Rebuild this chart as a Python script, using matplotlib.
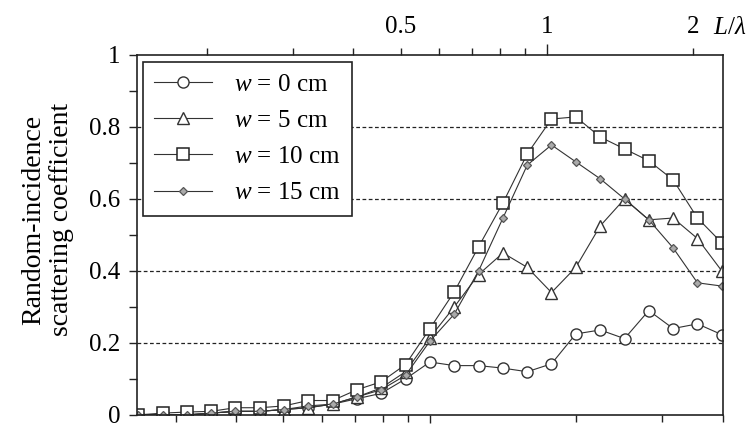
import matplotlib
matplotlib.use("Agg")
import matplotlib.pyplot as plt
from matplotlib.ticker import FixedLocator, FuncFormatter, NullFormatter

plt.rcParams['font.family'] = ['Liberation Serif', 'DejaVu Serif']
plt.rcParams['mathtext.fontset'] = 'custom'
plt.rcParams['mathtext.rm'] = 'Liberation Serif'
plt.rcParams['mathtext.it'] = 'Liberation Serif:italic'

# band centre frequencies (Hz)
freq = [251, 282, 316, 355, 398, 447, 501, 562, 631, 708, 794, 891, 1000,
        1122, 1259, 1413, 1585, 1778, 1995, 2239, 2512, 2818, 3162, 3548, 3981]

# scattering coefficient for each groove depth w
s_w0 = [0.0, 0.0, 0.0, 0.005, 0.01, 0.01, 0.015, 0.02, 0.03, 0.045, 0.06, 0.10, 0.147,
        0.137, 0.137, 0.13, 0.12, 0.142, 0.225, 0.236, 0.212, 0.29, 0.24, 0.253, 0.223]
s_w5 = [0.0, 0.0, 0.0, 0.005, 0.01, 0.01, 0.015, 0.02, 0.03, 0.05, 0.075, 0.12, 0.215,
        0.30, 0.39, 0.45, 0.41, 0.34, 0.41, 0.525, 0.60, 0.542, 0.547, 0.49, 0.40]
s_w10 = [0.0, 0.005, 0.008, 0.01, 0.02, 0.02, 0.025, 0.04, 0.04, 0.07, 0.092, 0.14, 0.24,
         0.342, 0.467, 0.589, 0.725, 0.822, 0.828, 0.772, 0.739, 0.706, 0.653, 0.547, 0.478]
s_w15 = [0.0, 0.0, 0.0, 0.005, 0.01, 0.01, 0.015, 0.025, 0.03, 0.05, 0.07, 0.11, 0.205,
         0.28, 0.40, 0.547, 0.694, 0.75, 0.703, 0.656, 0.60, 0.542, 0.464, 0.367, 0.358]

f_ref = 1741.0  # frequency where L/lambda = 1

fig = plt.figure(figsize=(7.49, 4.26), dpi=100)
ax = fig.add_axes([0.183, 0.026, 0.782, 0.845])

lc = '#333333'
ax.plot(freq, s_w0, '-o', color=lc, lw=0.8, ms=8, mfc='white', mec=lc, mew=1.0,
        label='$w$ = 0 cm')
ax.plot(freq, s_w5, '-^', color=lc, lw=0.8, ms=9, mfc='white', mec=lc, mew=1.0,
        label='$w$ = 5 cm')
ax.plot(freq, s_w10, '-s', color=lc, lw=0.8, ms=8, mfc='white', mec='#222222', mew=1.1,
        label='$w$ = 10 cm')
ax.plot(freq, s_w15, '-D', color=lc, lw=0.8, ms=4, mfc='#aaaaaa', mec='#555555', mew=0.9,
        label='$w$ = 15 cm')

for yv in [0.2, 0.4, 0.6, 0.8]:
    ax.axhline(yv, color='#222222', lw=0.9, ls=(0, (3, 2)), zorder=0)

ax.set_xscale('log')
ax.set_xlim(250, 4000)
ax.set_ylim(0, 1)

ax.xaxis.set_major_locator(FixedLocator([1000]))
ax.xaxis.set_minor_locator(FixedLocator([300, 400, 500, 600, 700, 800, 900, 2000, 3000, 4000]))
ax.xaxis.set_major_formatter(NullFormatter())
ax.xaxis.set_minor_formatter(NullFormatter())

ax.yaxis.set_major_locator(FixedLocator([0, 0.2, 0.4, 0.6, 0.8, 1.0]))
ax.yaxis.set_minor_locator(FixedLocator([0.1, 0.3, 0.5, 0.7, 0.9]))
ax.yaxis.set_major_formatter(FuncFormatter(lambda v, p: '%g' % round(v, 1)))

ax.tick_params(axis='y', which='both', direction='out', length=6, width=1.0,
               labelsize=18, pad=6, color='#222222')
ax.tick_params(axis='x', which='major', direction='out', length=6, width=1.0, color='#222222')
ax.tick_params(axis='x', which='minor', direction='out', length=5, width=1.0, color='#222222')

for sp in ax.spines.values():
    sp.set_linewidth(1.2)
    sp.set_color('#222222')

# top axis in L/lambda
top = ax.twiny()
top.set_xscale('log')
top.set_xlim(250 / f_ref, 4000 / f_ref)
top.xaxis.set_major_locator(FixedLocator([1]))
top.xaxis.set_minor_locator(FixedLocator([0.2, 0.3, 0.4, 0.5, 0.6, 0.7, 0.8, 0.9, 2]))
top.xaxis.set_major_formatter(FuncFormatter(lambda v, p: '%g' % v))
top.xaxis.set_minor_formatter(FuncFormatter(lambda v, p: '%g' % v if v in (0.5, 2) else ''))
top.tick_params(axis='x', which='major', direction='out', length=8, width=1.0,
                labelsize=18, pad=4, color='#222222')
top.tick_params(axis='x', which='minor', direction='out', length=5, width=1.0,
                labelsize=18, pad=7, color='#222222')
for sp in top.spines.values():
    sp.set_visible(False)

fig.text(0.952, 0.934, '$L/\\lambda$', fontsize=18, ha='left', va='center')

fig.text(0.063, 0.484, 'Random-incidence\nscattering coefficient', fontsize=20,
         rotation=90, ha='center', va='center', multialignment='center', linespacing=1.15)

leg = ax.legend(loc='upper left', bbox_to_anchor=(0.010, 0.981), borderaxespad=0,
                fontsize=18, frameon=True, fancybox=False, framealpha=1,
                edgecolor='#222222', handlelength=2.3, handletextpad=0.9,
                labelspacing=0.55, borderpad=0.45)
leg.get_frame().set_linewidth(1.2)

fig.savefig('out.png', dpi=100)
